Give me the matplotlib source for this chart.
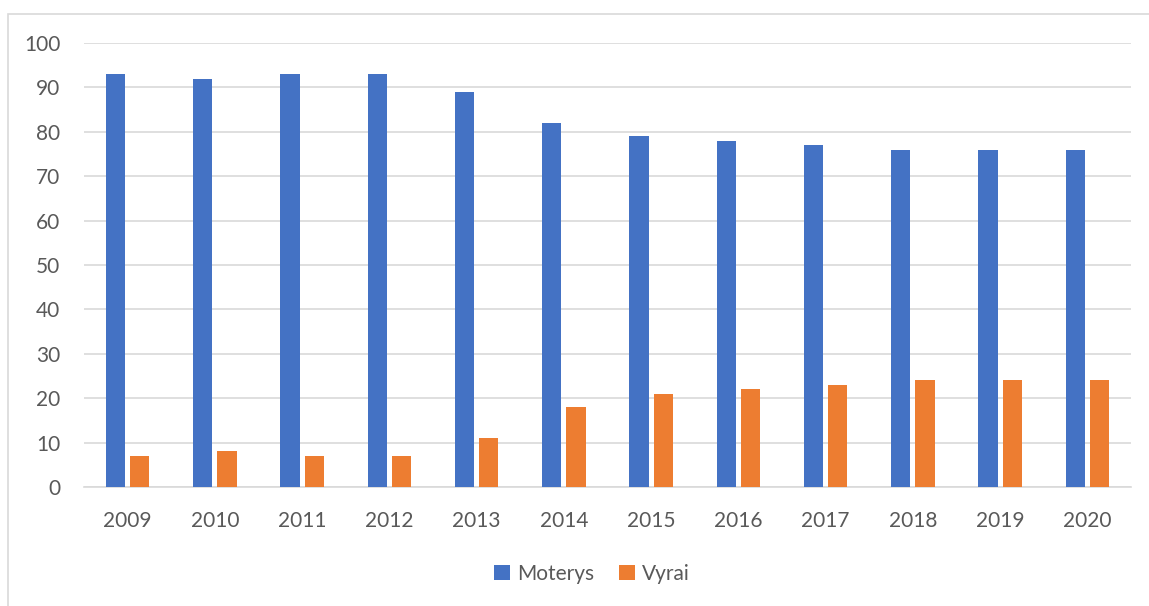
import numpy as np
from matplotlib import pyplot as plt
from matplotlib.patches import Rectangle

plt.rcParams['font.family'] = ['Lato', 'DejaVu Sans']

years = ['2009', '2010', '2011', '2012', '2013', '2014',
         '2015', '2016', '2017', '2018', '2019', '2020']
moterys = [93, 92, 93, 93, 89, 82, 79, 78, 77, 76, 76, 76]
vyrai = [7, 8, 7, 7, 11, 18, 21, 22, 23, 24, 24, 24]

blue = '#4472C4'
orange = '#ED7D31'
text_color = '#595959'
grid_color = '#D9D9D9'

fig = plt.figure(figsize=(11.49, 6.06), dpi=100)

# outer chart frame (partly cut off at right and bottom)
fig.patches.append(Rectangle((8 / 1149, -0.1), 1.2, 1 - 14 / 606 + 0.1,
                             transform=fig.transFigure, fill=False,
                             edgecolor=grid_color, linewidth=1.2))

ax = fig.add_axes([84 / 1149, 1 - 487 / 606, (1131 - 84) / 1149, (487 - 43) / 606])

x = np.arange(len(years))
w = 0.22
ax.bar(x - 0.14, moterys, w, color=blue, label='Moterys', zorder=3)
ax.bar(x + 0.14, vyrai, w, color=orange, label='Vyrai', zorder=3)

ax.set_xlim(-0.5, len(years) - 0.5)
ax.set_ylim(0, 100)
ax.set_yticks(range(0, 101, 10))
ax.set_xticks(x)
ax.set_xticklabels(years)

ax.grid(axis='y', color=grid_color, linewidth=1.2, zorder=0)
for s in ['top', 'right', 'left']:
    ax.spines[s].set_visible(False)
ax.spines['bottom'].set_color(grid_color)
ax.spines['bottom'].set_linewidth(1.2)
ax.tick_params(axis='both', length=0, labelsize=15, labelcolor=text_color)
ax.tick_params(axis='x', pad=17)
ax.tick_params(axis='y', pad=17)

ax.legend(loc='center', bbox_to_anchor=(0.485, -0.195), ncol=2, frameon=False,
          fontsize=15, labelcolor=text_color, handlelength=0.75, handleheight=0.75,
          handletextpad=0.35, columnspacing=1.2)

plt.savefig('out.png', dpi=100)
